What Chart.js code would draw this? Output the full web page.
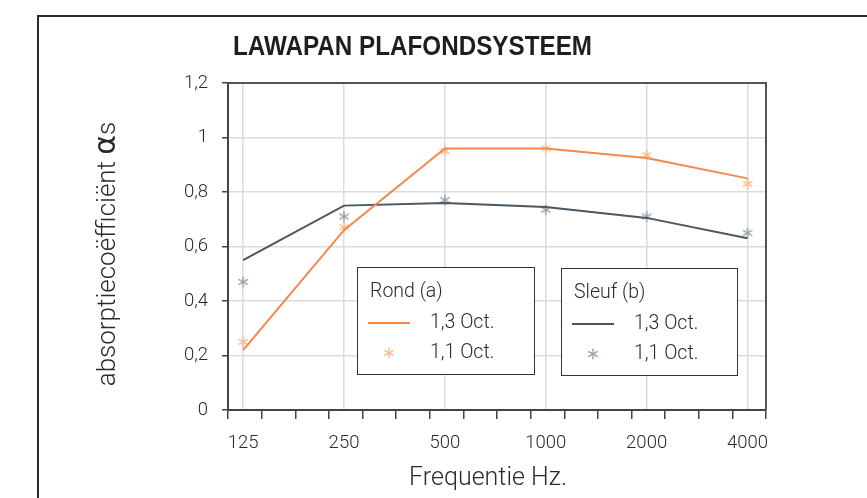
<!DOCTYPE html>
<html><head><meta charset="utf-8">
<script src="https://cdn.jsdelivr.net/npm/chart.js@4/dist/chart.umd.min.js"></script>
<style>html,body{margin:0;padding:0;background:#fff}canvas{display:block}</style>
</head><body>
<canvas id="c" width="867" height="498"></canvas>
<script>
const categories = ['125', '250', '500', '1000', '2000', '4000'];
const rond13 = [0.22, 0.66, 0.96, 0.96, 0.925, 0.85];
const rond11 = [0.25, 0.67, 0.95, 0.96, 0.935, 0.83];
const sleuf13 = [0.55, 0.75, 0.76, 0.745, 0.705, 0.63];
const sleuf11 = [0.47, 0.71, 0.77, 0.735, 0.71, 0.65];
const yMin = 0, yMax = 1.2, yStep = 0.2;
const chartTitle = 'LAWAPAN PLAFONDSYSTEEM';
const yTitleParts = ['absorptiecoëfficiënt ', 'α', 's'];
const xTitle = 'Frequentie Hz.';
const legendGroups = [
  {title: 'Rond (a)', line: '1,3 Oct.', star: '1,1 Oct.'},
  {title: 'Sleuf (b)', line: '1,3 Oct.', star: '1,1 Oct.'}
];

const ORANGE = '#f5874a', ORANGE_L = '#f8b98f', SLATE = '#4a5661', SLATE_L = '#9aa1aa';
const TXT = '#2a2a2a';
const LIGHT = '"Roboto", "Liberation Sans", sans-serif';

function asterisk(color) {
  const c = document.createElement('canvas');
  c.width = 12; c.height = 12;
  const g = c.getContext('2d');
  g.strokeStyle = color; g.lineWidth = 1.4; g.lineCap = 'round';
  [90, 30, 150].forEach(a => {
    const r = a * Math.PI / 180;
    g.beginPath();
    g.moveTo(6 - 4.8 * Math.cos(r), 6 - 4.8 * Math.sin(r));
    g.lineTo(6 + 4.8 * Math.cos(r), 6 + 4.8 * Math.sin(r));
    g.stroke();
  });
  return c;
}
const starO = asterisk(ORANGE_L), starS = asterisk(SLATE_L);

const pts = arr => arr.map((v, i) => ({x: i, y: v}));
const xMinV = -0.15, xMaxV = -0.15 + 16 / 3;

const deco = {
  id: 'deco',
  beforeDraw(chart) {
    const ctx = chart.ctx;
    ctx.save(); ctx.fillStyle = '#fff'; ctx.fillRect(0, 0, chart.width, chart.height); ctx.restore();
  },
  afterDraw(chart) {
    const ctx = chart.ctx, a = chart.chartArea;
    ctx.save();
    // outer frame
    ctx.strokeStyle = '#2b2b2b'; ctx.lineWidth = 2;
    ctx.beginPath(); ctx.moveTo(38, 498); ctx.lineTo(38, 16); ctx.lineTo(867, 16); ctx.stroke();
    // plot top/right border
    ctx.strokeStyle = '#555'; ctx.lineWidth = 2;
    ctx.beginPath(); ctx.moveTo(a.left, a.top); ctx.lineTo(a.right, a.top); ctx.lineTo(a.right, a.bottom); ctx.stroke();
    // title (condensed bold)
    ctx.fillStyle = '#1e1e1e';
    ctx.font = 'bold 27px "Liberation Sans", Arial, sans-serif';
    ctx.textBaseline = 'middle'; ctx.textAlign = 'left';
    const tw = ctx.measureText(chartTitle).width;
    ctx.save(); ctx.translate(233, 48); ctx.scale(359 / tw, 1); ctx.fillText(chartTitle, 0, 0); ctx.restore();
    // x axis title
    ctx.fillStyle = TXT;
    ctx.font = '300 25px ' + LIGHT;
    ctx.textAlign = 'center';
    ctx.fillText(xTitle, 488, 479);
    // y axis title with larger alpha
    const fonts = ['300 26px ' + LIGHT, '30px "DejaVu Sans", sans-serif', '300 26px ' + LIGHT];
    const widths = yTitleParts.map((s, i) => { ctx.font = fonts[i]; return ctx.measureText(s).width; });
    const total = widths.reduce((p, q) => p + q, 0);
    ctx.save(); ctx.translate(106, 254); ctx.rotate(-Math.PI / 2);
    ctx.textAlign = 'left'; ctx.textBaseline = 'alphabetic';
    let xx = -total / 2;
    yTitleParts.forEach((s, i) => { ctx.font = fonts[i]; ctx.fillText(s, xx, 9); xx += widths[i]; });
    ctx.restore();
    // legends
    const boxes = [
      {x: 357, y: 267, w: 177, h: 107, lc: ORANGE, st: starO},
      {x: 561, y: 268, w: 176, h: 107, lc: SLATE, st: starS}
    ];
    ctx.textBaseline = 'middle';
    boxes.forEach((b, i) => {
      const g = legendGroups[i];
      ctx.fillStyle = '#fff'; ctx.fillRect(b.x, b.y, b.w, b.h);
      ctx.strokeStyle = '#333'; ctx.lineWidth = 1;
      ctx.strokeRect(b.x + 0.5, b.y + 0.5, b.w, b.h);
      ctx.fillStyle = TXT; ctx.font = '300 19.5px ' + LIGHT; ctx.textAlign = 'left';
      ctx.fillText(g.title, b.x + 13, b.y + 25);
      ctx.fillText(g.line, b.x + 73, b.y + 56);
      ctx.fillText(g.star, b.x + 73, b.y + 86);
      ctx.strokeStyle = b.lc; ctx.lineWidth = 2;
      ctx.beginPath(); ctx.moveTo(b.x + 11, b.y + 56); ctx.lineTo(b.x + 53, b.y + 56); ctx.stroke();
      ctx.drawImage(b.st, b.x + 32 - 6, b.y + 86 - 6);
    });
    ctx.restore();
  }
};

new Chart(document.getElementById('c'), {
  type: 'line',
  data: {
    datasets: [
      {label: 'Rond 1,3 Oct.', data: pts(rond13), borderColor: ORANGE, borderWidth: 2, pointRadius: 0, fill: false, tension: 0},
      {label: 'Sleuf 1,3 Oct.', data: pts(sleuf13), borderColor: SLATE, borderWidth: 2, pointRadius: 0, fill: false, tension: 0},
      {label: 'Rond 1,1 Oct.', data: pts(rond11), showLine: false, pointStyle: starO, pointRadius: 6, borderColor: ORANGE_L},
      {label: 'Sleuf 1,1 Oct.', data: pts(sleuf11), showLine: false, pointStyle: starS, pointRadius: 6, borderColor: SLATE_L}
    ]
  },
  options: {
    responsive: false,
    devicePixelRatio: 1,
    animation: false,
    layout: {padding: {left: 0, top: 83, right: 101, bottom: 0}},
    plugins: {legend: {display: false}, title: {display: false}, tooltip: {enabled: false}},
    scales: {
      x: {
        type: 'linear', min: xMinV, max: xMaxV,
        afterBuildTicks(scale) {
          const t = [];
          for (let k = 0; k <= 16; k++) t.push(xMinV + k / 3);
          categories.forEach((c, i) => t.push(i));
          t.sort((p, q) => p - q);
          scale.ticks = t.map(v => ({value: v}));
        },
        afterFit(scale) { scale.height = 88; },
        grid: {
          color: c => (c.tick && Number.isInteger(c.tick.value)) ? '#dcdcdc' : 'rgba(0,0,0,0)',
          tickColor: c => (c.tick && Number.isInteger(c.tick.value)) ? 'rgba(0,0,0,0)' : '#444',
          tickLength: 9, lineWidth: 1.5, tickWidth: 1.5
        },
        border: {color: '#444', width: 2},
        ticks: {
          autoSkip: false, maxRotation: 0, minRotation: 0, padding: 13,
          color: TXT, font: {family: LIGHT, size: 18.5, weight: '300'},
          callback: v => Number.isInteger(v) ? categories[v] : ''
        }
      },
      y: {
        min: yMin, max: yMax,
        afterFit(scale) { scale.width = 228; },
        afterBuildTicks(scale) {
          const t = [];
          for (let v = yMin; v <= yMax + 1e-9; v += yStep) t.push({value: Math.round(v * 10) / 10});
          scale.ticks = t;
        },
        grid: {
          color: c => (c.tick && c.tick.value > 0 && c.tick.value < yMax) ? '#dcdcdc' : 'rgba(0,0,0,0)',
          tickColor: '#444', tickLength: 6, lineWidth: 1.5, tickWidth: 1.5
        },
        border: {color: '#444', width: 2},
        ticks: {
          padding: 14, color: TXT, font: {family: LIGHT, size: 18.5, weight: '300'},
          callback: v => String(Math.round(v * 10) / 10).replace('.', ',')
        }
      }
    }
  },
  plugins: [deco]
});
</script>
</body></html>
